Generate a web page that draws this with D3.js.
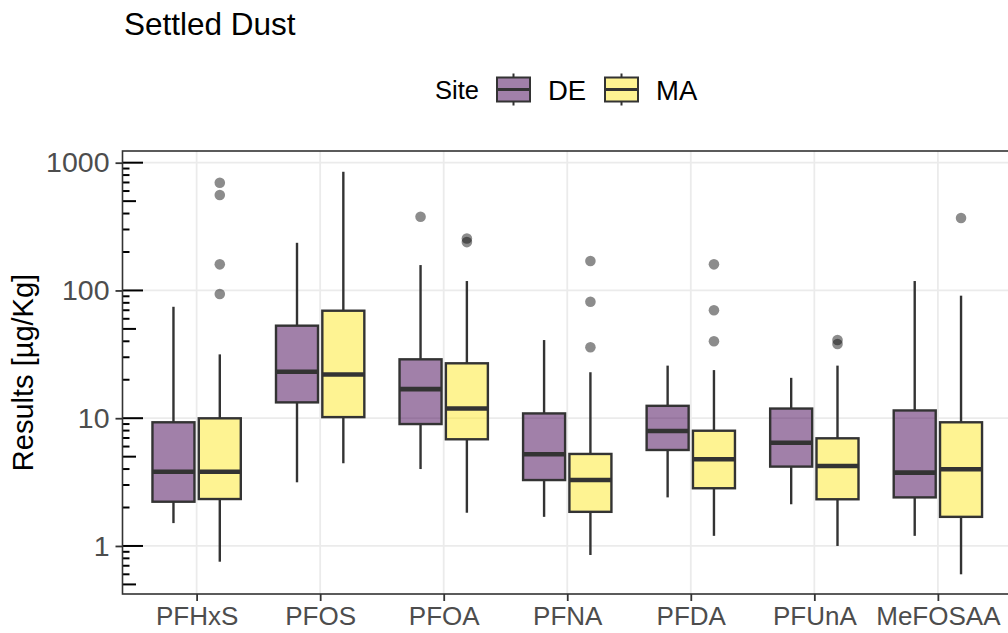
<!DOCTYPE html>
<html>
<head>
<meta charset="utf-8">
<script src="https://cdn.jsdelivr.net/npm/d3@7"></script>
<style>
  body { margin: 0; background: #fff; }
  text { font-family: "Liberation Sans", Arial, sans-serif; }
</style>
</head>
<body>
<div id="chart"></div>
<script>
var categories = ["PFHxS", "PFOS", "PFOA", "PFNA", "PFDA", "PFUnA", "MeFOSAA"];
var sites = ["DE", "MA"];

// [lower whisker, q1, median, q3, upper whisker]
var deStats = [
    [1.51, 2.22, 3.81, 9.29, 74.5],
    [3.15, 13.3, 23.1, 53, 236],
    [4.0, 9.0, 16.9, 28.9, 158],
    [1.69, 3.28, 5.22, 10.9, 40.9],
    [2.4, 5.64, 7.94, 12.5, 25.8],
    [2.12, 4.18, 6.43, 11.9, 20.7],
    [1.2, 2.4, 3.75, 11.5, 118.5]
];
var maStats = [
    [0.753, 2.33, 3.81, 9.98, 31.6],
    [4.44, 10.2, 22.0, 69.4, 849],
    [1.82, 6.84, 11.9, 26.9, 118.5],
    [0.85, 1.85, 3.28, 5.25, 22.9],
    [1.2, 2.83, 4.77, 7.98, 23.8],
    [1.0, 2.32, 4.23, 6.96, 25.8],
    [0.60, 1.69, 3.98, 9.29, 91]
];
var deOutliers = [[], [], [377], [], [], [], []];
var maOutliers = [[93.7, 160, 558, 696], [], [239, 255], [35.9, 81.6, 170], [40, 69.9, 160], [38.1, 40.9], [369]];

var yTicks = [1, 10, 100, 1000];
var colors = ["#440154", "#FDE725"];

const width = 1008,
    height = 633,
    pLeft = 122.5, pRight = 1012, pTop = 151, pBottom = 594;

const svg = d3.select("#chart").append("svg")
    .attr("width", width)
    .attr("height", height);

var x = d3.scalePoint()
    .domain(categories)
    .range([pLeft, pRight])
    .padding(0.6);

var y = d3.scaleLog()
    .domain([Math.pow(10, -0.376), Math.pow(10, 3.0915)])
    .range([pBottom, pTop]);

var step = x.step();
var dodge = d3.scaleBand().domain(sites).range([-step * 0.375, step * 0.375]);
var boxW = step * 0.34;

// grid
svg.append("g").selectAll("line")
    .data(yTicks).enter().append("line")
    .attr("x1", pLeft).attr("x2", pRight)
    .attr("y1", d => y(d)).attr("y2", d => y(d))
    .attr("stroke", "#EBEBEB").attr("stroke-width", 1.8);

svg.append("g").selectAll("line")
    .data(categories).enter().append("line")
    .attr("x1", d => x(d)).attr("x2", d => x(d))
    .attr("y1", pTop).attr("y2", pBottom)
    .attr("stroke", "#EBEBEB").attr("stroke-width", 1.8);

// boxes
var rows = [];
categories.forEach(function(c, i) {
    rows.push({cat: c, site: "DE", s: deStats[i], out: deOutliers[i], col: colors[0]});
    rows.push({cat: c, site: "MA", s: maStats[i], out: maOutliers[i], col: colors[1]});
});

var boxes = svg.append("g").selectAll("g")
    .data(rows).enter().append("g")
    .attr("transform", d => "translate(" + (x(d.cat) + dodge(d.site) + dodge.bandwidth() / 2) + ",0)");

boxes.append("line")
    .attr("x1", 0).attr("x2", 0)
    .attr("y1", d => y(d.s[0])).attr("y2", d => y(d.s[1]))
    .attr("stroke", "#333").attr("stroke-width", 2.4);
boxes.append("line")
    .attr("x1", 0).attr("x2", 0)
    .attr("y1", d => y(d.s[3])).attr("y2", d => y(d.s[4]))
    .attr("stroke", "#333").attr("stroke-width", 2.4);

boxes.append("rect")
    .attr("x", -boxW / 2).attr("width", boxW)
    .attr("y", d => y(d.s[3]))
    .attr("height", d => y(d.s[1]) - y(d.s[3]))
    .attr("fill", d => d.col).attr("fill-opacity", 0.5)
    .attr("stroke", "#333").attr("stroke-width", 2.4);

boxes.append("line")
    .attr("x1", -boxW / 2).attr("x2", boxW / 2)
    .attr("y1", d => y(d.s[2])).attr("y2", d => y(d.s[2]))
    .attr("stroke", "#333").attr("stroke-width", 4.6);

boxes.selectAll("circle")
    .data(d => d.out).enter().append("circle")
    .attr("cx", 0).attr("cy", d => y(d))
    .attr("r", 5.3)
    .attr("fill", "#000").attr("fill-opacity", 0.45);

// log ticks inside panel
var logTicks = [];
[-1, 0, 1, 2, 3].forEach(function(e) {
    for (var k = 1; k <= 9; k++) {
        var v = k * Math.pow(10, e);
        if (v >= y.domain()[0] && v <= y.domain()[1]) logTicks.push({v: v, k: k});
    }
});
svg.append("g").selectAll("line")
    .data(logTicks).enter().append("line")
    .attr("x1", pLeft)
    .attr("x2", d => pLeft + (d.k === 1 ? 20.5 : d.k === 5 ? 13.5 : 7))
    .attr("y1", d => y(d.v)).attr("y2", d => y(d.v))
    .attr("stroke", "#000").attr("stroke-width", 2);

// panel border
svg.append("rect")
    .attr("x", pLeft).attr("y", pTop)
    .attr("width", pRight - pLeft).attr("height", pBottom - pTop)
    .attr("fill", "none").attr("stroke", "#333").attr("stroke-width", 1.6);

// axes
var yAxis = svg.append("g")
    .attr("transform", "translate(" + pLeft + ",0)")
    .call(d3.axisLeft(y).tickValues(yTicks).tickFormat(d3.format("d")).tickSize(7).tickPadding(6));
yAxis.select(".domain").remove();
yAxis.selectAll("line").attr("stroke", "#333").attr("stroke-width", 1.8);
yAxis.selectAll("text")
    .attr("fill", "#4D4D4D")
    .style("font-size", "28.5px")
    .style("font-family", "Liberation Sans, Arial, sans-serif");

var xAxis = svg.append("g")
    .attr("transform", "translate(0," + pBottom + ")")
    .call(d3.axisBottom(x).tickSize(7).tickPadding(5));
xAxis.select(".domain").remove();
xAxis.selectAll("line").attr("stroke", "#333").attr("stroke-width", 1.8);
xAxis.selectAll("text")
    .attr("fill", "#4D4D4D")
    .attr("dy", "0.72em")
    .style("font-size", "26px")
    .style("font-family", "Liberation Sans, Arial, sans-serif");

svg.append("text")
    .attr("transform", "translate(33," + ((pTop + pBottom) / 2) + ") rotate(-90)")
    .attr("text-anchor", "middle")
    .style("font-size", "29px")
    .text("Results [µg/Kg]");

svg.append("text")
    .attr("x", 124).attr("y", 35)
    .style("font-size", "31.5px")
    .text("Settled Dust");

// legend
var legend = svg.append("g");
legend.append("text")
    .attr("x", 435).attr("y", 99)
    .style("font-size", "25.5px")
    .text("Site");

var keyX = [497, 605];
sites.forEach(function(s, i) {
    var g = legend.append("g").attr("transform", "translate(" + keyX[i] + ",0)");
    g.append("line").attr("x1", 16.5).attr("x2", 16.5).attr("y1", 73.5).attr("y2", 105.5)
        .attr("stroke", "#333").attr("stroke-width", 2);
    g.append("rect").attr("x", 0).attr("y", 77.5).attr("width", 33).attr("height", 24)
        .attr("fill", "#fff");
    g.append("rect").attr("x", 0).attr("y", 77.5).attr("width", 33).attr("height", 24)
        .attr("fill", colors[i]).attr("fill-opacity", 0.5)
        .attr("stroke", "#333").attr("stroke-width", 2);
    g.append("line").attr("x1", 0).attr("x2", 33).attr("y1", 89.5).attr("y2", 89.5)
        .attr("stroke", "#333").attr("stroke-width", 3);
    g.append("text").attr("x", 51).attr("y", 99.5)
        .style("font-size", "27.5px")
        .text(s);
});
</script>
</body>
</html>
